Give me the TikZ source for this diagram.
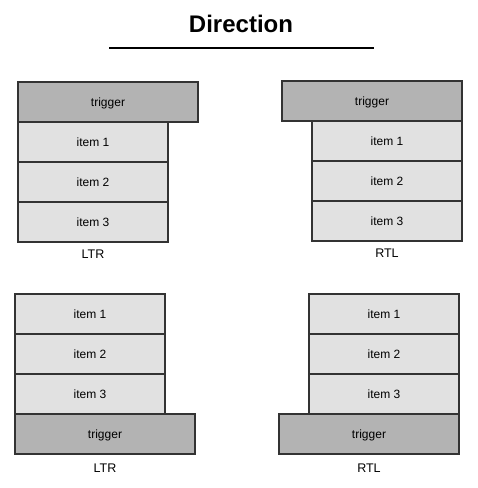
\documentclass[tikz,border=0pt]{standalone}
\usepackage{fontspec}
\setmainfont{Liberation Sans}
\usepackage{tikz}
\usetikzlibrary{positioning}
\definecolor{triggergray}{HTML}{B3B3B3}
\definecolor{itemgray}{HTML}{E1E1E1}
\definecolor{edgegray}{HTML}{333333}

\begin{document}
\begin{tikzpicture}[x=1pt, y=-1pt,
  itembox/.style={rectangle, draw=edgegray, fill=itemgray, line width=1.5pt,
                  minimum width=150pt, minimum height=40pt, inner sep=0pt, outer sep=0pt,
                  text height=9pt, text depth=1pt,
                  font=\fontsize{12}{14}\selectfont},
  triggerbox/.style={itembox, fill=triggergray, minimum width=180pt},
  dirlabel/.style={font=\fontsize{12.5}{14}\selectfont, inner sep=0pt},
  node distance=0pt
]
  \useasboundingbox (0,0) rectangle (478,488);

  % Title
  \node[font=\bfseries\fontsize{24}{28}\selectfont] (title) at (241,24) {Direction};
  \draw[line width=2pt] (109,48) -- (374,48);

  % Top left: trigger above, LTR
  \node[itembox] (tl1) at (93,142) {item 1};
  \node[itembox, below=of tl1] (tl2) {item 2};
  \node[itembox, below=of tl2] (tl3) {item 3};
  \node[triggerbox, anchor=south west] (tlt) at (tl1.north west) {trigger};
  \node[dirlabel, below=8pt of tl3] (tllab) {LTR};

  % Top right: trigger above, RTL
  \node[itembox] (tr1) at (387,141) {item 1};
  \node[itembox, below=of tr1] (tr2) {item 2};
  \node[itembox, below=of tr2] (tr3) {item 3};
  \node[triggerbox, anchor=south east] (trt) at (tr1.north east) {trigger};
  \node[dirlabel, below=8pt of tr3] (trlab) {RTL};

  % Bottom left: trigger below, LTR
  \node[itembox] (bl1) at (90,314) {item 1};
  \node[itembox, below=of bl1] (bl2) {item 2};
  \node[itembox, below=of bl2] (bl3) {item 3};
  \node[triggerbox, anchor=north west] (blt) at (bl3.south west) {trigger};
  \node[dirlabel, below=10pt of blt] (bllab) {LTR};

  % Bottom right: trigger below, RTL
  \node[itembox] (br1) at (384,314) {item 1};
  \node[itembox, below=of br1] (br2) {item 2};
  \node[itembox, below=of br2] (br3) {item 3};
  \node[triggerbox, anchor=north east] (brt) at (br3.south east) {trigger};
  \node[dirlabel, below=10pt of brt] (brlab) {RTL};
\end{tikzpicture}
\end{document}
